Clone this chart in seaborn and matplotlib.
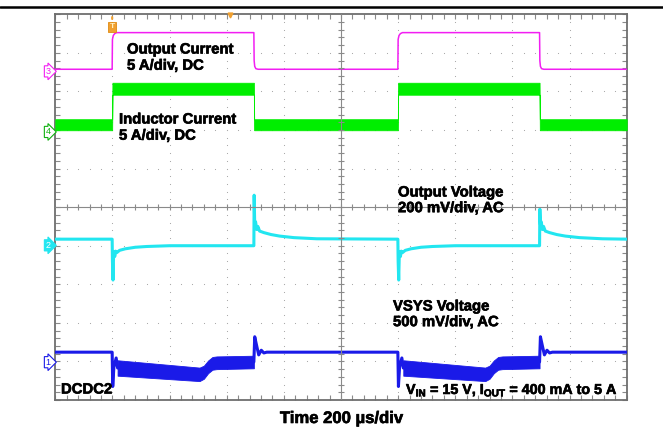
import numpy as np
import pandas as pd
import seaborn as sns
import matplotlib.pyplot as plt
import matplotlib.patheffects as pe
from matplotlib.lines import Line2D

# scope screen: x in microseconds (10 div x 200 us), y in divisions (0..10)

# channel 3 - output current (magenta)
t_iout = [0, 199, 200, 203, 208, 215, 695, 696, 698, 702, 710,
          1199, 1200, 1203, 1208, 1215, 1695, 1696, 1698, 1702, 1710, 2000]
v_iout = [8.575, 8.575, 9.35, 9.45, 9.5, 9.525, 9.525, 8.8, 8.65, 8.59, 8.575,
          8.575, 9.35, 9.45, 9.5, 9.525, 9.525, 8.8, 8.65, 8.59, 8.575, 8.575]

# channel 4 - inductor current (green), centre of ripple band and half height
t_il = [0, 199, 200, 695, 696, 1199, 1200, 1695, 1696, 2000]
mid_il = [7.137, 7.137, 8.07, 8.07, 7.137, 7.137, 8.07, 8.07, 7.137, 7.137]
half_il = [0.143, 0.143, 0.155, 0.155, 0.143, 0.143, 0.155, 0.155, 0.143, 0.143]

# channel 2 - output voltage (cyan)
t_vout = [0, 199, 200, 202, 204, 206, 208, 211, 215, 225, 245, 280, 320, 400,
          695, 696, 698, 701, 705, 709, 715, 730, 755, 785, 835, 915,
          1199, 1200, 1202, 1204, 1206, 1208, 1211, 1215, 1225, 1245, 1280, 1320, 1400,
          1695, 1696, 1698, 1701, 1705, 1709, 1715, 1730, 1755, 1785, 1835, 1915, 2000]
v_vout = [4.17, 4.17, 3.6, 3.11, 3.75, 3.85, 3.72, 3.86, 3.82, 3.88, 3.92, 3.96, 3.98, 4.0,
          4.0, 5.31, 4.55, 4.62, 4.42, 4.5, 4.38, 4.34, 4.29, 4.25, 4.21, 4.18,
          4.17, 3.6, 3.11, 3.75, 3.85, 3.72, 3.86, 3.82, 3.88, 3.92, 3.96, 3.98, 4.0,
          4.0, 4.95, 4.55, 4.62, 4.42, 4.5, 4.38, 4.34, 4.29, 4.25, 4.21, 4.18, 4.17]

# channel 1 - VSYS voltage (blue), trace plus switching-ripple band while loaded
t_vsys = [0, 199, 201, 205, 213, 218, 505, 520, 535, 550, 565, 695,
          698, 705, 712, 721, 730, 740,
          1199, 1201, 1205, 1213, 1218, 1505, 1520, 1535, 1550, 1565, 1695,
          1698, 1705, 1712, 1721, 1730, 1740, 2000]
v_vsys = [1.24, 1.24, 0.35, 0.85, 1.09, 0.83, 0.665, 0.72, 0.86, 0.95, 0.965, 0.985,
          1.64, 1.4, 1.17, 1.29, 1.22, 1.24,
          1.24, 0.35, 0.85, 1.09, 0.83, 0.665, 0.72, 0.86, 0.95, 0.965, 0.985,
          1.64, 1.4, 1.17, 1.29, 1.22, 1.24, 1.24]
band_seg = [1, 1, 1, 1, 1, 1, 1, 2, 2, 2, 2, 2, 2, 2]
band_t = [218, 505, 520, 535, 550, 565, 695, 1218, 1505, 1520, 1535, 1550, 1565, 1695]
band_mid = [0.83, 0.665, 0.72, 0.86, 0.95, 0.965, 0.985] * 2
band_half = [0.2, 0.175, 0.17, 0.165, 0.165, 0.165, 0.163] * 2

c_mag = '#f21ef2'
c_grn = '#00ee00'
c_cyn = '#22e6f0'
c_blu = '#1a1ae8'

W, H = 663, 429
sns.set_style('white')
plt.rcParams['font.family'] = ['Liberation Sans', 'DejaVu Sans']
plt.rcParams['mathtext.fontset'] = 'custom'
plt.rcParams['mathtext.rm'] = 'Liberation Sans:bold'
plt.rcParams['mathtext.bf'] = 'Liberation Sans:bold'

fig = plt.figure(figsize=(W / 100, H / 100), dpi=100)
ax = fig.add_axes([55.3 / W, 1 - 400 / H, 571.4 / W, 385.7 / H])
ax.set_xlim(0, 2000)
ax.set_ylim(0, 10)

# graticule
gcol = '#ababab'
for gx in range(200, 2000, 200):
    if gx == 1000:
        continue
    ys = np.arange(0.2, 10, 0.2)
    ax.plot(np.full_like(ys, gx), ys, ls='none', marker='s', ms=0.75, mew=0, color=gcol, zorder=1)
for gy in range(1, 10):
    if gy == 5:
        continue
    xs = np.arange(40, 2000, 40)
    ax.plot(xs, np.full_like(xs, gy, dtype=float), ls='none', marker='s', ms=0.75, mew=0,
            color=gcol, zorder=1)

ax.axvline(1000, color='#8a8a8a', lw=0.8, zorder=4)
ax.axhline(5, color='#8a8a8a', lw=0.8, zorder=4)
xs = np.arange(40, 2000, 40)
ax.plot(xs, np.full(len(xs), 5.0), ls='none', marker='|', ms=5, mew=0.8, color='#8a8a8a', zorder=4)
ys = np.arange(0.2, 10, 0.2)
ax.plot(np.full(len(ys), 1000), ys, ls='none', marker='_', ms=5, mew=0.8, color='#8a8a8a', zorder=4)

ax.set_xticks(np.arange(0, 2001, 200))
ax.set_xticks(np.arange(0, 2001, 40), minor=True)
ax.set_yticks(np.arange(0, 11, 1))
ax.set_yticks(np.arange(0, 10.01, 0.2), minor=True)
ax.tick_params(which='both', direction='in', length=3.5, width=0.8, color='#8a8a8a',
               top=True, bottom=True, left=True, right=True,
               labelbottom=False, labelleft=False)
for s in ax.spines.values():
    s.set_color('#6e6e6e')
    s.set_linewidth(1.3)

# traces
df3 = pd.DataFrame({'t': t_iout, 'v': v_iout})
sns.lineplot(data=df3, x='t', y='v', ax=ax, color=c_mag, lw=1.1, estimator=None, sort=False, zorder=3)

df4 = pd.DataFrame({'t': t_il, 'mid': mid_il, 'half': half_il})
ax.fill_between(df4['t'], df4['mid'] - df4['half'], df4['mid'] + df4['half'],
                color=c_grn, lw=0.6, edgecolor=c_grn, zorder=3)

df2 = pd.DataFrame({'t': t_vout, 'v': v_vout})
sns.lineplot(data=df2, x='t', y='v', ax=ax, color=c_cyn, lw=2.2, estimator=None, sort=False, zorder=3)

df1 = pd.DataFrame({'t': t_vsys, 'v': v_vsys})
sns.lineplot(data=df1, x='t', y='v', ax=ax, color=c_blu, lw=2.2, estimator=None, sort=False, zorder=3)
dfb = pd.DataFrame({'seg': band_seg, 't': band_t, 'mid': band_mid, 'half': band_half})
for _, g in dfb.groupby('seg'):
    ax.fill_between(g['t'], g['mid'] - g['half'], g['mid'] + g['half'],
                    color=c_blu, lw=0.6, edgecolor=c_blu, zorder=3)
ax.set_xlabel('')
ax.set_ylabel('')

# channel markers
for lab, lvl, col, fc, tc in [('3', 8.52, c_mag, 'white', c_mag), ('4', 6.95, '#10b010', 'white', '#10b010'),
                              ('2', 4.01, c_cyn, c_cyn, 'white'), ('1', 0.98, c_blu, 'white', c_blu)]:
    ax.annotate(lab, xy=(0, lvl), xycoords=('axes fraction', 'data'), xytext=(-3.5, 0),
                textcoords='offset points', ha='right', va='center', fontsize=6.5, color=tc,
                bbox=dict(boxstyle='rarrow,pad=0.12', fc=fc, ec=col, lw=0.8), annotation_clip=False)

# trigger marker
ax.annotate('T', xy=(199, 10), xycoords='data', xytext=(0, -9), textcoords='offset points',
            ha='center', va='center', fontsize=6, fontweight='bold', color='#fff0c0',
            bbox=dict(boxstyle='square,pad=0.15', fc='#f0a030', ec='#e08a10', lw=0.6),
            arrowprops=dict(arrowstyle='-', color='#f0a030', lw=1.5), annotation_clip=False)
ax.plot([611], [9.97], marker='v', ms=3.5, color='#f0a030', clip_on=False, zorder=5)

# top rule
fig.add_artist(Line2D([0, 1], [1 - 6.5 / H, 1 - 6.5 / H], color='black', lw=1.8))

bold = [pe.withStroke(linewidth=0.45, foreground='black')]


def ftext(x, y, s, **kw):
    fig.text(x / W, 1 - y / H, s, fontweight='bold', va='top', color='black',
             path_effects=bold, **kw)


fs = 10.7
ftext(127, 42.5, 'Output Current\n5 A/div, DC', fontsize=fs, linespacing=1.2)
ftext(119, 112.5, 'Inductor Current\n5 A/div, DC', fontsize=fs, linespacing=1.2)
ftext(398, 185.5, 'Output Voltage\n200 mV/div, AC', fontsize=fs, linespacing=1.15)
ftext(393, 299.5, 'VSYS Voltage\n500 mV/div, AC', fontsize=fs, linespacing=1.15)
ftext(61, 382.5, 'DCDC2', fontsize=fs)
ftext(406, 382.5, r'V$_{\mathrm{IN}}$ = 15 V, I$_{\mathrm{OUT}}$ = 400 mA to 5 A', fontsize=10.3)
ftext(341, 411, 'Time 200 µs/div', fontsize=12, ha='center')

fig.savefig('out.png', dpi=100)
